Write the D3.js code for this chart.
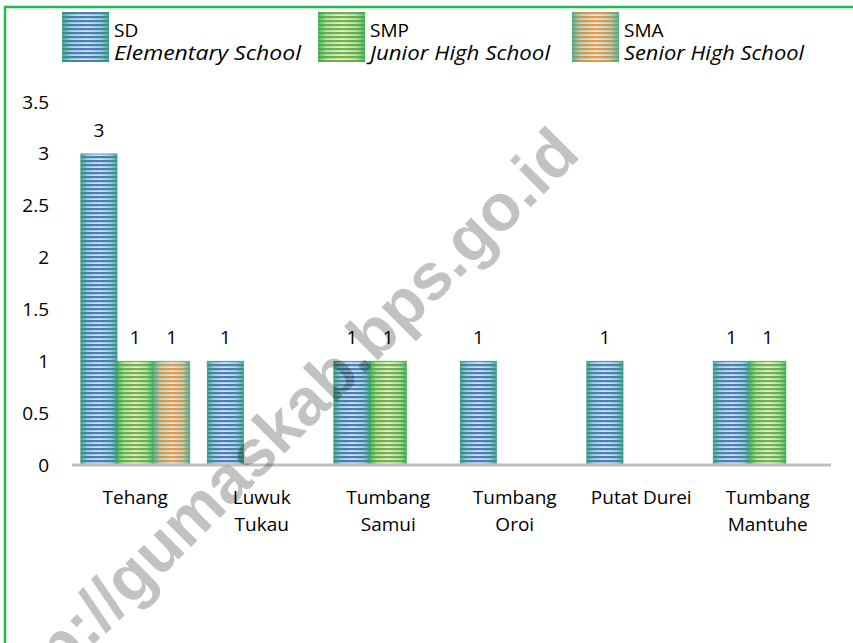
<!DOCTYPE html>
<html>
<head>
<meta charset="utf-8">
<script src="https://cdn.jsdelivr.net/npm/d3@7"></script>
<style>
  body { margin: 0; background: #fff; }
  text { font-family: "Open Sans", sans-serif; fill: #000; }
</style>
</head>
<body>
<div id="chart"></div>
<script>
var categories = ["Tehang", "Luwuk Tukau", "Tumbang Samui", "Tumbang Oroi", "Putat Durei", "Tumbang Mantuhe"];
var catLines = [["Tehang"], ["Luwuk", "Tukau"], ["Tumbang", "Samui"], ["Tumbang", "Oroi"], ["Putat Durei"], ["Tumbang", "Mantuhe"]];
var seriesKeys = ["SD", "SMP", "SMA"];
var seriesNames = ["Elementary School", "Junior High School", "Senior High School"];
var sdValues = [3, 1, 1, 1, 1, 1];
var smpValues = [1, 0, 1, 0, 0, 1];
var smaValues = [1, 0, 0, 0, 0, 0];
var yTicks = [0, 0.5, 1, 1.5, 2, 2.5, 3, 3.5];
var watermark = "http://gumaskab.bps.go.id";

var values = [sdValues, smpValues, smaValues];
var stripeA = ["#4a7cbf", "#79b244", "#f5963f"],
    stripeB = ["#d6e3f3", "#e6f1da", "#d5ebee"],
    edge = ["#2c9c78", "#2caa4e", "#34a88a"];

var W = 853, H = 643;
var svg = d3.select("#chart").append("svg").attr("width", W).attr("height", H);
var defs = svg.append("defs");

// striped fills + soft edge glow, one pair per series
seriesKeys.forEach(function (k, i) {
    var p = defs.append("pattern").attr("id", "stripe" + i)
        .attr("patternUnits", "userSpaceOnUse").attr("width", 8).attr("height", 4);
    p.append("rect").attr("width", 8).attr("height", 4).attr("fill", stripeB[i]);
    p.append("rect").attr("width", 8).attr("height", 2.2).attr("fill", stripeA[i]);
    var g = defs.append("linearGradient").attr("id", "edge" + i);
    [[0, 0.8], [0.18, 0.25], [0.5, 0], [0.82, 0.25], [1, 0.8]].forEach(function (s) {
        g.append("stop").attr("offset", s[0]).attr("stop-color", edge[i]).attr("stop-opacity", s[1]);
    });
});

// outer green frame
svg.append("rect").attr("x", 5).attr("y", 7).attr("width", 1000).attr("height", 1000)
    .attr("fill", "none").attr("stroke", "#1db954").attr("stroke-width", 2.5);

var x0 = d3.scaleBand().domain(categories).range([72, 831]);
var x1 = d3.scaleBand().domain(seriesKeys).range([0, x0.bandwidth()]).paddingOuter(0.24);
var y = d3.scaleLinear().domain([0, 3.5]).range([465, 102]);

// y tick labels only
svg.append("g").attr("transform", "translate(49,0)")
    .call(d3.axisLeft(y).tickValues(yTicks).tickSize(0).tickPadding(0).tickFormat(d3.format("")))
    .call(function (g) { g.select(".domain").remove(); })
    .selectAll("text").style("font-size", "19px").style("font-family", "Open Sans").attr("fill", "#000");

// bars
var bars = svg.append("g");
seriesKeys.forEach(function (k, i) {
    categories.forEach(function (c, j) {
        var v = values[i][j];
        if (!v) return;
        var bx = x0(c) + x1(k), bw = x1.bandwidth();
        bars.append("rect").attr("x", bx).attr("y", y(v)).attr("width", bw).attr("height", y(0) - y(v))
            .attr("fill", "url(#stripe" + i + ")");
        bars.append("rect").attr("x", bx).attr("y", y(v)).attr("width", bw).attr("height", y(0) - y(v))
            .attr("fill", "url(#edge" + i + ")").attr("stroke", edge[i]).attr("stroke-opacity", 0.5);
        bars.append("text").attr("x", bx + bw / 2).attr("y", y(v) - 17)
            .attr("text-anchor", "middle").style("font-size", "19px").text(v);
    });
});

// baseline
svg.append("line").attr("x1", x0.range()[0]).attr("x2", x0.range()[1])
    .attr("y1", y(0)).attr("y2", y(0)).attr("stroke", "#bfbfbf").attr("stroke-width", 3);

// category labels
var xl = svg.append("g");
categories.forEach(function (c, j) {
    var t = xl.append("text").attr("x", x0(c) + x0.bandwidth() / 2).attr("y", 504)
        .attr("text-anchor", "middle").style("font-size", "19px");
    catLines[j].forEach(function (line, k) {
        t.append("tspan").attr("x", x0(c) + x0.bandwidth() / 2).attr("dy", k ? 27 : 0).text(line);
    });
});

// legend
var legX = [62, 318, 572], legW = [187, 180, 180];
seriesKeys.forEach(function (k, i) {
    var lg = svg.append("g").attr("transform", "translate(" + legX[i] + ",12)");
    lg.append("rect").attr("width", 47).attr("height", 50).attr("fill", "url(#stripe" + i + ")");
    lg.append("rect").attr("width", 47).attr("height", 50).attr("fill", "url(#edge" + i + ")");
    lg.append("text").attr("x", 52).attr("y", 25).style("font-size", "19px").text(k);
    lg.append("text").attr("x", 52).attr("y", 48).style("font-size", "20px").style("font-style", "italic")
        .attr("textLength", legW[i]).attr("lengthAdjust", "spacingAndGlyphs").text(seriesNames[i]);
});

// watermark
svg.append("text").attr("transform", "translate(582,156) rotate(-45)")
    .attr("text-anchor", "end")
    .style("font-family", "Liberation Sans").style("font-weight", "bold").style("font-size", "66px")
    .attr("fill", "#8c8c8c").attr("fill-opacity", 0.24)
    .text(watermark);
</script>
</body>
</html>
